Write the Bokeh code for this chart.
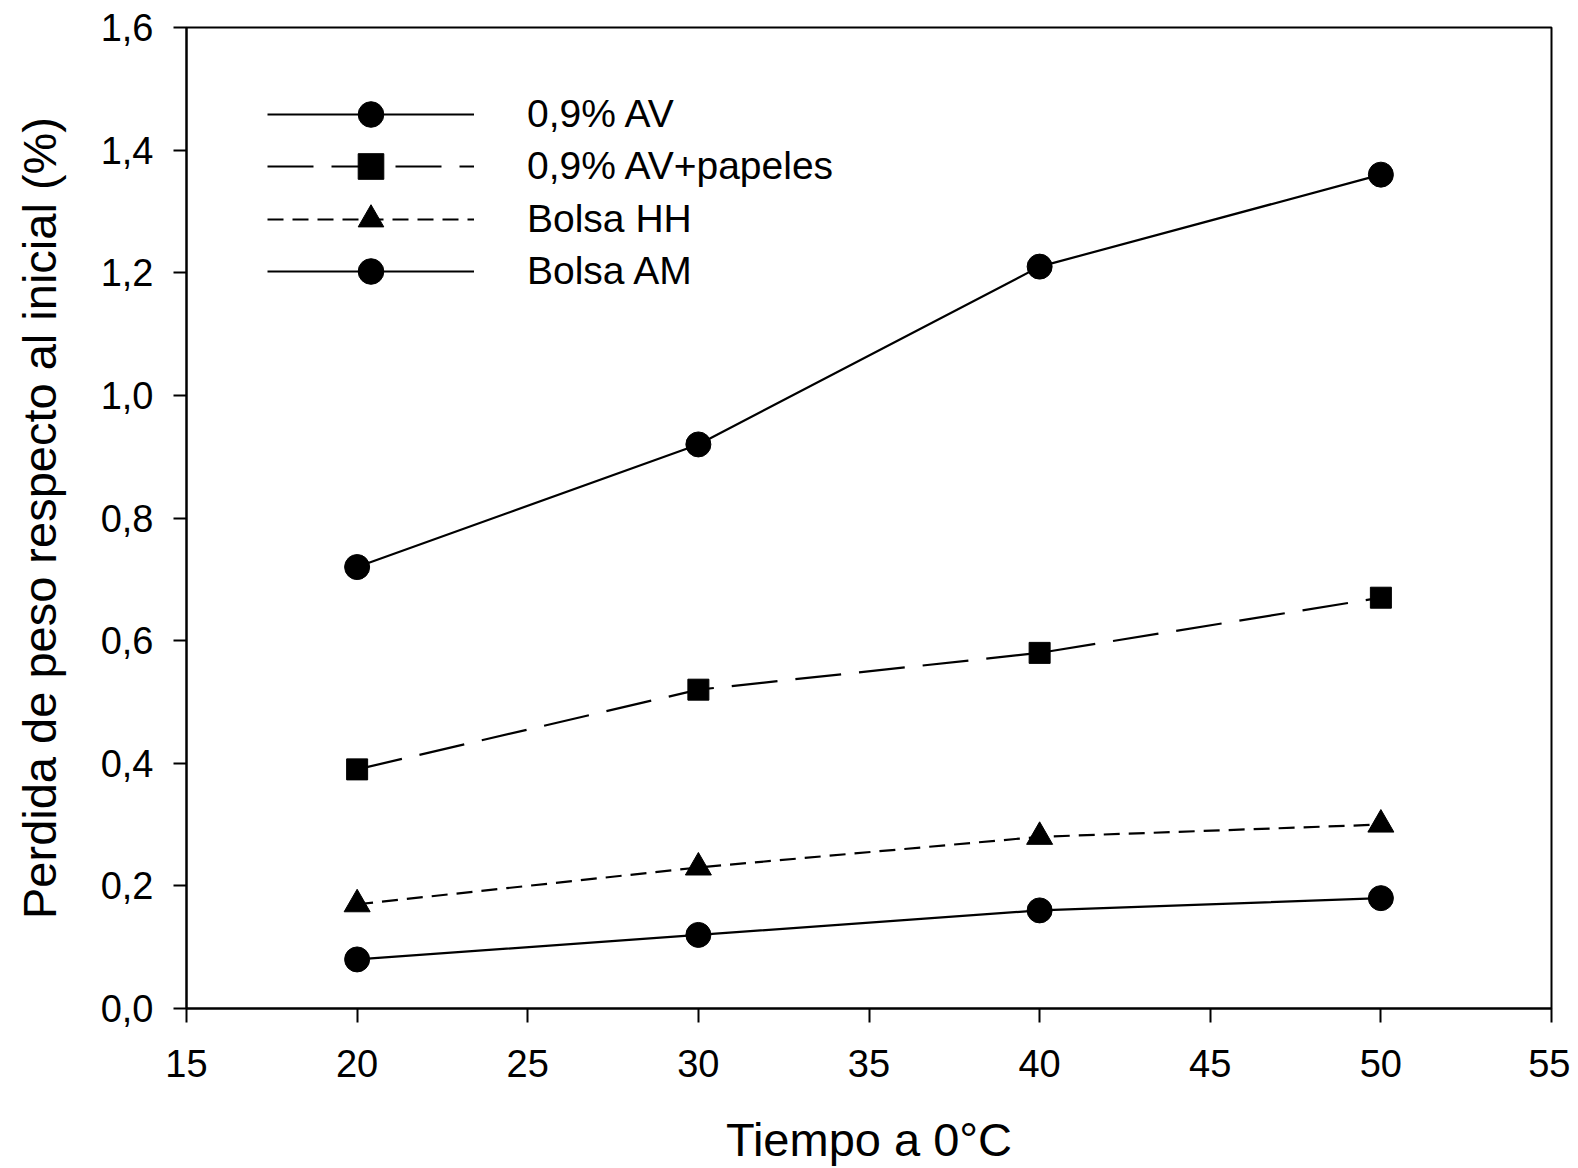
from bokeh.plotting import figure
from bokeh.models import FixedTicker, Legend, LegendItem, Range1d
from bokeh.embed import file_html
from bokeh.resources import INLINE

# ---- data ----
tiempo = [20, 30, 40, 50]
av_09 = [0.72, 0.92, 1.21, 1.36]
av_papeles = [0.39, 0.52, 0.58, 0.67]
bolsa_hh = [0.17, 0.23, 0.28, 0.30]
bolsa_am = [0.08, 0.12, 0.16, 0.18]

series_names = ["0,9% AV", "0,9% AV+papeles", "Bolsa HH", "Bolsa AM"]

x_ticks = [15, 20, 25, 30, 35, 40, 45, 50, 55]
y_ticks = [0.0, 0.2, 0.4, 0.6, 0.8, 1.0, 1.2, 1.4, 1.6]
y_tick_labels = ["0,0", "0,2", "0,4", "0,6", "0,8", "1,0", "1,2", "1,4", "1,6"]

x_label = "Tiempo a 0°C"
y_label = "Perdida de peso respecto al inicial (%)"

FONT = "Liberation Sans"

p = figure(width=1570, height=1168, output_backend="svg", toolbar_location=None,
           x_range=Range1d(15, 55), y_range=Range1d(0, 1.6),
           min_border_left=186, min_border_top=27, min_border_right=19,
           min_border_bottom=160)
p.xgrid.visible = False
p.ygrid.visible = False
p.outline_line_color = "black"
p.outline_line_width = 2
p.outline_line_alpha = 1.0
p.background_fill_color = "white"
p.border_fill_color = "white"

for ax in (p.xaxis[0], p.yaxis[0]):
    ax.axis_line_width = 2
    ax.major_tick_line_width = 2
    ax.major_tick_in = 0
    ax.major_tick_out = 13
    ax.minor_tick_line_color = None
    ax.major_label_text_font = FONT
    ax.major_label_text_font_size = "38px"
    ax.major_label_text_color = "black"
    ax.axis_label_text_font = FONT
    ax.axis_label_text_font_size = "47px"
    ax.axis_label_text_font_style = "normal"
    ax.axis_label_text_color = "black"

p.xaxis.ticker = FixedTicker(ticks=x_ticks)
p.yaxis.ticker = FixedTicker(ticks=y_ticks)
p.yaxis.major_label_overrides = {t: l for t, l in zip(y_ticks, y_tick_labels)}
p.xaxis.major_tick_out = 14
p.xaxis.major_label_standoff = 27
p.yaxis.major_label_standoff = 20
p.xaxis.axis_label = x_label
p.yaxis.axis_label = y_label
p.xaxis.axis_label_standoff = 33
p.yaxis.axis_label_standoff = 32

styles = [
    (av_09, "solid", "circle", 25),
    (av_papeles, "46 18", "square", 21),
    (bolsa_hh, "16 9", "triangle", 26),
    (bolsa_am, "solid", "circle", 25),
]

# legend layout (screen px): first row centre, row pitch, row box height
row0_from_frame_top = 87
row_pitch = 52.3
row_h = 64
frame_h = 981

for i, ((vals, dash, marker, size), name) in enumerate(zip(styles, series_names)):
    r_line = p.line(tiempo, vals, line_color="black", line_width=2.2, line_dash=dash)
    r_pt = p.scatter(tiempo, vals, marker=marker, size=size, fill_color="black",
                     line_color="black", line_width=1)
    yc = row0_from_frame_top + i * row_pitch
    vy = int(round(frame_h - (yc + row_h / 2)))
    lg = Legend(items=[LegendItem(label=name, renderers=[r_line, r_pt])],
                location=(81, vy), orientation="vertical",
                glyph_width=207, glyph_height=row_h, label_height=row_h, spacing=0,
                label_standoff=53, padding=0, margin=0,
                border_line_color=None, background_fill_alpha=0,
                label_text_font=FONT, label_text_font_size="39px",
                label_text_color="black", label_text_baseline="middle")
    p.add_layout(lg, "center")

open("out.html", "w").write(file_html(p, INLINE))
